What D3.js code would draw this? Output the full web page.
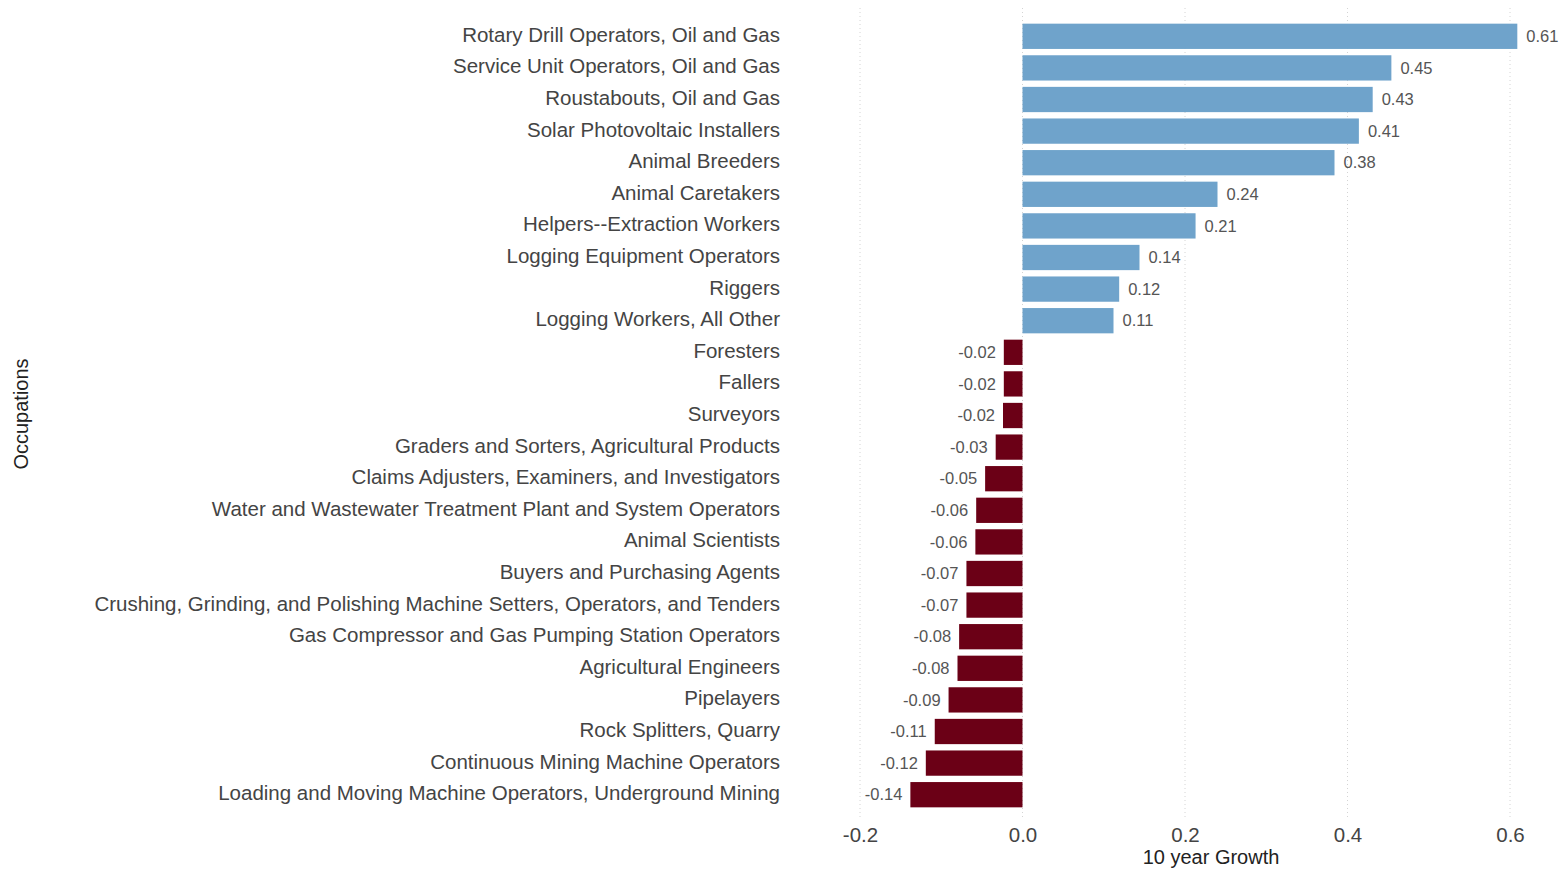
<!DOCTYPE html>
<html>
<head>
<meta charset="utf-8">
<script src="https://cdn.jsdelivr.net/npm/d3@7"></script>
<style>
  body { margin: 0; background: #fff; }
  svg text { font-family: "Liberation Sans", Arial, sans-serif; }
</style>
</head>
<body>
<svg id="chart" width="1562" height="871"></svg>
<script>
// occupations, top to bottom
var occupations = [
  "Rotary Drill Operators, Oil and Gas",
  "Service Unit Operators, Oil and Gas",
  "Roustabouts, Oil and Gas",
  "Solar Photovoltaic Installers",
  "Animal Breeders",
  "Animal Caretakers",
  "Helpers--Extraction Workers",
  "Logging Equipment Operators",
  "Riggers",
  "Logging Workers, All Other",
  "Foresters",
  "Fallers",
  "Surveyors",
  "Graders and Sorters, Agricultural Products",
  "Claims Adjusters, Examiners, and Investigators",
  "Water and Wastewater Treatment Plant and System Operators",
  "Animal Scientists",
  "Buyers and Purchasing Agents",
  "Crushing, Grinding, and Polishing Machine Setters, Operators, and Tenders",
  "Gas Compressor and Gas Pumping Station Operators",
  "Agricultural Engineers",
  "Pipelayers",
  "Rock Splitters, Quarry",
  "Continuous Mining Machine Operators",
  "Loading and Moving Machine Operators, Underground Mining"
];

var growth = [0.609, 0.454, 0.431, 0.414, 0.384, 0.240, 0.213, 0.144, 0.119, 0.112,
  -0.023, -0.023, -0.024, -0.033, -0.046, -0.057, -0.058, -0.069, -0.069,
  -0.078, -0.080, -0.091, -0.108, -0.119, -0.138];

var xTicks = [-0.2, 0.0, 0.2, 0.4, 0.6];

var data = occupations.map(function(d, i) { return {name: d, value: growth[i]}; });

// plain hyphen for negatives, like the original
var fmt2 = function(v) { return v.toFixed(2); };
var fmt1 = function(v) { return v.toFixed(1); };

var svg = d3.select("#chart");

var x = d3.scaleLinear()
    .domain([-0.2, 0.6])
    .range([860, 1510]);

var y = d3.scaleBand()
    .domain(occupations)
    .range([20.5, 810.5])
    .paddingInner(0.2)
    .paddingOuter(0.1);

// dotted grid
svg.append("g")
  .selectAll("line")
  .data(xTicks)
  .enter().append("line")
    .attr("x1", function(d) { return x(d); })
    .attr("x2", function(d) { return x(d); })
    .attr("y1", 8)
    .attr("y2", 818)
    .attr("stroke", "#d4d4d4")
    .attr("stroke-width", 1)
    .attr("stroke-dasharray", "1,3");

// bars
svg.append("g")
  .selectAll("rect")
  .data(data)
  .enter().append("rect")
    .attr("x", function(d) { return x(Math.min(0, d.value)); })
    .attr("y", function(d) { return y(d.name); })
    .attr("width", function(d) { return Math.abs(x(d.value) - x(0)); })
    .attr("height", y.bandwidth())
    .attr("fill", function(d) { return d.value >= 0 ? "#6fa3cb" : "#6b0016"; });

// value labels
svg.append("g")
  .selectAll("text")
  .data(data)
  .enter().append("text")
    .attr("x", function(d) { return d.value >= 0 ? x(d.value) + 9 : x(d.value) - 8; })
    .attr("y", function(d) { return y(d.name) + y.bandwidth() / 2; })
    .attr("dy", ".35em")
    .attr("text-anchor", function(d) { return d.value >= 0 ? "start" : "end"; })
    .style("font-size", "16.5px")
    .attr("fill", "#555")
    .text(function(d) { return fmt2(d.value); });

// category labels
var yAxis = svg.append("g")
    .attr("transform", "translate(780,-1)")
    .call(d3.axisLeft(y).tickSize(0).tickPadding(0));
yAxis.select(".domain").remove();
yAxis.selectAll("text")
    .style("font-size", "20.5px")
    .style("font-family", "'Liberation Sans', Arial, sans-serif")
    .attr("fill", "#444");

// x axis
var xAxis = svg.append("g")
    .attr("transform", "translate(0,822)")
    .call(d3.axisBottom(x).tickValues(xTicks).tickFormat(fmt1).tickSize(0).tickPadding(5));
xAxis.select(".domain").remove();
xAxis.selectAll("text")
    .style("font-size", "20.5px")
    .style("font-family", "'Liberation Sans', Arial, sans-serif")
    .attr("fill", "#444");

svg.append("text")
    .attr("x", 1211)
    .attr("y", 864)
    .attr("text-anchor", "middle")
    .style("font-size", "20px")
    .attr("fill", "#222")
    .text("10 year Growth");

svg.append("text")
    .attr("transform", "translate(28,414) rotate(-90)")
    .attr("text-anchor", "middle")
    .style("font-size", "20px")
    .attr("fill", "#222")
    .text("Occupations");
</script>
</body>
</html>
